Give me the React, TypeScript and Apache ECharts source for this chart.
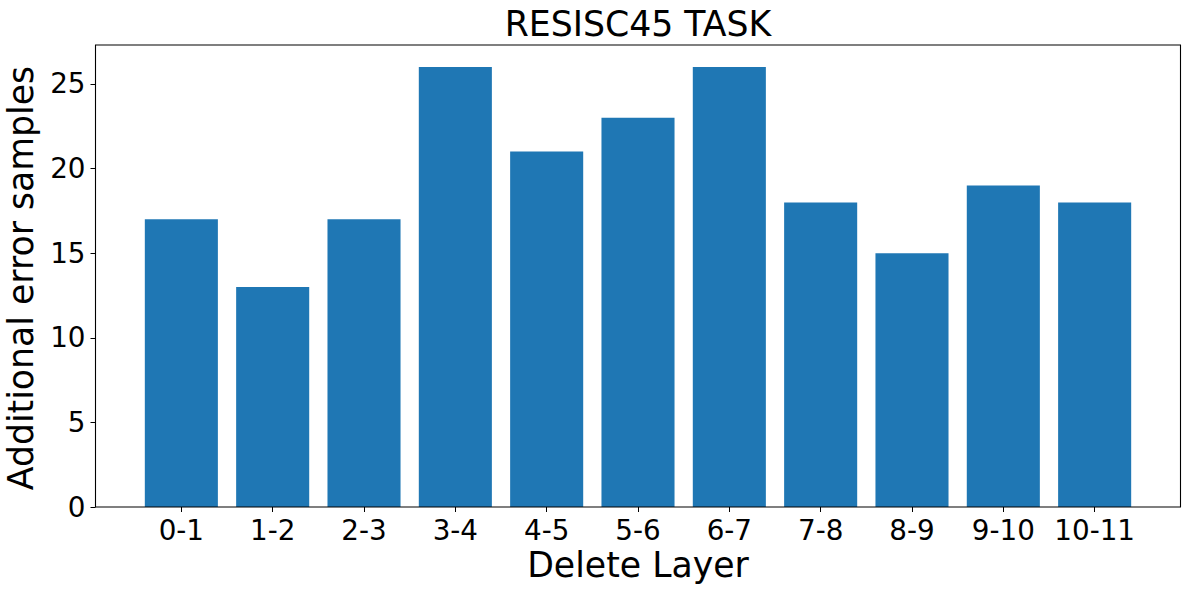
import React, { useEffect, useRef } from "react";
import * as echarts from "echarts";

const categories = ["0-1", "1-2", "2-3", "3-4", "4-5", "5-6", "6-7", "7-8", "8-9", "9-10", "10-11"];
const errorSamples = [17, 13, 17, 26, 21, 23, 26, 18, 15, 19, 18];
const yTicks = { min: 0, max: 27.3, interval: 5 };
const titleText = "RESISC45 TASK";
const xAxisTitle = "Delete Layer";
const yAxisTitle = "Additional error samples";

const FONT = "DejaVu Sans";
const W = 1189;
const H = 594;
const PLOT_LEFT = 95.5;
const PLOT_TOP = 45;
const PLOT_W = 1085;
const PLOT_H = 462;
const X_SPAN = 11.88; // matplotlib xlim range (-0.94 .. 10.94)
const STEP = PLOT_W / X_SPAN;
const CAT_LEFT = PLOT_LEFT + 0.44 * STEP;
const CAT_W = 11 * STEP;

export default function App() {
  const ref = useRef<HTMLDivElement>(null);
  useEffect(() => {
    if (!ref.current) return;
    const chart = echarts.init(ref.current, undefined, { renderer: "svg" });
    chart.setOption({
      animation: false,
      backgroundColor: "#ffffff",
      textStyle: { fontFamily: FONT },
      grid: [
        { left: PLOT_LEFT, top: PLOT_TOP, width: PLOT_W, height: PLOT_H, show: false },
        { left: CAT_LEFT, top: PLOT_TOP, width: CAT_W, height: PLOT_H, show: false },
      ],
      xAxis: [
        { type: "value", gridIndex: 0, min: 0, max: 1, show: false },
        {
          type: "category",
          gridIndex: 1,
          data: categories,
          axisLine: { show: false },
          axisTick: { show: true, alignWithLabel: true, length: 5, lineStyle: { color: "#000", width: 1 } },
          axisLabel: { color: "#000", fontSize: 27.8, fontFamily: FONT, margin: 9, interval: 0 },
          splitLine: { show: false },
        },
      ],
      yAxis: [
        {
          type: "value",
          gridIndex: 0,
          min: yTicks.min,
          max: yTicks.max,
          interval: yTicks.interval,
          axisLine: { show: false },
          axisTick: { show: true, length: 5, lineStyle: { color: "#000", width: 1 } },
          axisLabel: {
            color: "#000",
            fontSize: 27.8,
            fontFamily: FONT,
            margin: 10,
            showMaxLabel: false,
            formatter: (v: number) => (v % 5 === 0 ? String(v) : ""),
          },
          splitLine: { show: false },
        },
        { type: "value", gridIndex: 1, min: yTicks.min, max: yTicks.max, show: false },
      ],
      series: [
        {
          type: "bar",
          xAxisIndex: 1,
          yAxisIndex: 1,
          data: errorSamples,
          barWidth: 0.8 * STEP,
          itemStyle: { color: "#1f77b4" },
        },
      ],
      graphic: [
        {
          type: "rect",
          silent: true,
          z: 100,
          shape: { x: PLOT_LEFT, y: PLOT_TOP, width: PLOT_W, height: PLOT_H },
          style: { fill: "none", stroke: "#000", lineWidth: 1.1 },
        },
        {
          type: "text",
          silent: true,
          x: PLOT_LEFT + PLOT_W / 2,
          y: 24,
          style: {
            text: titleText,
            fill: "#000",
            font: `34.7px "${FONT}"`,
            align: "center",
            verticalAlign: "middle",
          },
        },
        {
          type: "text",
          silent: true,
          x: PLOT_LEFT + PLOT_W / 2,
          y: 565,
          style: {
            text: xAxisTitle,
            fill: "#000",
            font: `34.7px "${FONT}"`,
            align: "center",
            verticalAlign: "middle",
          },
        },
        {
          type: "text",
          silent: true,
          x: 21,
          y: PLOT_TOP + PLOT_H / 2 + 2,
          rotation: Math.PI / 2,
          style: {
            text: yAxisTitle,
            fill: "#000",
            font: `34.7px "${FONT}"`,
            align: "center",
            verticalAlign: "middle",
          },
        },
      ],
    });
    return () => chart.dispose();
  }, []);
  return (
    <div
      ref={ref}
      style={{ position: "fixed", left: 0, top: 0, width: W, height: H, background: "#fff" }}
    />
  );
}
